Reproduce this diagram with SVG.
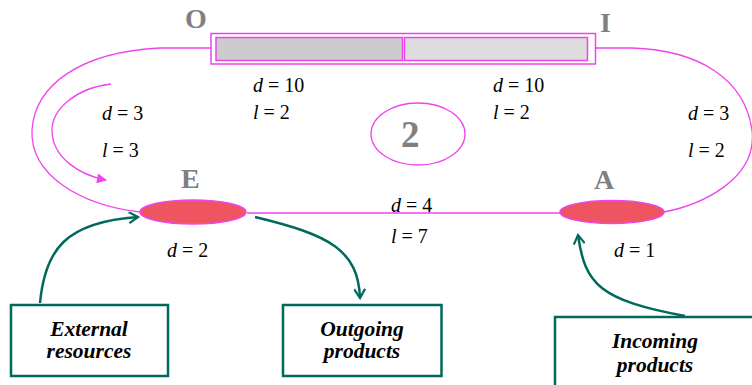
<svg xmlns="http://www.w3.org/2000/svg" width="752" height="385" viewBox="0 0 752 385">
<style>
.mag{fill:none;stroke:#ee44ee;stroke-width:1.3}
.lbl{font-family:"Liberation Serif","Times New Roman",serif;font-size:20px;font-style:italic;fill:#000}
.lbl tspan.n{font-style:normal}
.cap{font-family:"Liberation Serif","Times New Roman",serif;font-size:28px;font-weight:bold;fill:#808080}
.node{fill:#ee5560;stroke:#ee44ee;stroke-width:1.5}
.box{fill:#fff;stroke:#00695c;stroke-width:2.5}
.btxt{font-family:"Liberation Serif","Times New Roman",serif;font-size:21.5px;font-style:italic;font-weight:bold;fill:#000;text-anchor:middle}
.teal{fill:none;stroke:#00695c;stroke-width:2.5}
</style>
<defs>
<marker id="chev" viewBox="0 0 12 12" refX="10" refY="6" markerWidth="12" markerHeight="12" markerUnits="userSpaceOnUse" orient="auto">
<path d="M1,0.5 L10,6 L1,11.5" fill="none" stroke="#00695c" stroke-width="2.2"/>
</marker>
<marker id="tri" viewBox="0 0 10 10" refX="9" refY="5" markerWidth="14" markerHeight="10" markerUnits="userSpaceOnUse" orient="auto">
<path d="M0,0 L10,5 L0,10 Z" fill="#ee44ee"/>
</marker>
</defs>
<g id="connectors">
<path class="mag" d="M211,48 L160,48 C80,52 35,85 32,130 C30,175 80,205 140,212"/>
<path class="mag" d="M596,48 L632,48 C700,50 745,80 752,130 C758,180 700,205 664,212"/>
<path class="mag" d="M247,213 L560,213"/>
<path class="mag" d="M111,84 C75,88 52,110 52,130 C52,158 80,175 106,180" marker-end="url(#tri)"/>
<path class="teal" d="M40,303 C45,250 65,222 138,217" marker-end="url(#chev)"/>
<path class="teal" d="M255,217 C330,235 358,250 360,298" marker-end="url(#chev)"/>
<path class="teal" d="M685,316 C600,300 585,285 578,235" marker-end="url(#chev)"/>
</g>
<g id="queue">
<rect x="211" y="33.5" width="384.5" height="30.5" fill="#fff" stroke="#ee44ee" stroke-width="1.5"/>
<rect x="216" y="37.5" width="186.5" height="23" fill="#cccccc" stroke="#ee44ee" stroke-width="1.5"/>
<rect x="404.5" y="37.5" width="183" height="23" fill="#dddddd" stroke="#ee44ee" stroke-width="1.5"/>
<text class="cap" x="185" y="27.5">O</text>
<text class="cap" x="600" y="32">I</text>
</g>
<g id="nodeE">
<ellipse class="node" cx="193" cy="212" rx="53" ry="12"/>
<text class="cap" x="181" y="188">E</text>
</g>
<g id="nodeA">
<ellipse class="node" cx="612" cy="212" rx="52" ry="11.5"/>
<text class="cap" x="594" y="189">A</text>
</g>
<g id="zone">
<ellipse cx="418" cy="134" rx="47" ry="31" fill="none" stroke="#ee44ee" stroke-width="1.3"/>
<text x="401" y="147" font-family="'Liberation Serif', serif" font-size="37" font-weight="bold" fill="#808080">2</text>
</g>
<g id="labels">
<text class="lbl" x="253" y="92">d<tspan class="n"> = 10</tspan></text>
<text class="lbl" x="253" y="119">l<tspan class="n"> = 2</tspan></text>
<text class="lbl" x="493" y="92">d<tspan class="n"> = 10</tspan></text>
<text class="lbl" x="493" y="119">l<tspan class="n"> = 2</tspan></text>
<text class="lbl" x="102" y="120">d<tspan class="n"> = 3</tspan></text>
<text class="lbl" x="102" y="157">l<tspan class="n"> = 3</tspan></text>
<text class="lbl" x="688" y="120">d<tspan class="n"> = 3</tspan></text>
<text class="lbl" x="688" y="157">l<tspan class="n"> = 2</tspan></text>
<text class="lbl" x="391" y="212">d<tspan class="n"> = 4</tspan></text>
<text class="lbl" x="391" y="243">l<tspan class="n"> = 7</tspan></text>
<text class="lbl" x="167" y="257">d<tspan class="n"> = 2</tspan></text>
<text class="lbl" x="614" y="257">d<tspan class="n"> = 1</tspan></text>
</g>
<g id="external">
<rect class="box" x="11" y="305" width="157" height="71"/>
<text class="btxt" x="89" y="336">External</text>
<text class="btxt" x="89" y="358">resources</text>
</g>
<g id="outgoing">
<rect class="box" x="283" y="305" width="158.5" height="71"/>
<text class="btxt" x="362" y="336">Outgoing</text>
<text class="btxt" x="362" y="358">products</text>
</g>
<g id="incoming">
<rect class="box" x="555" y="317" width="210" height="80"/>
<text class="btxt" x="655" y="348">Incoming</text>
<text class="btxt" x="655" y="372">products</text>
</g>
</svg>
